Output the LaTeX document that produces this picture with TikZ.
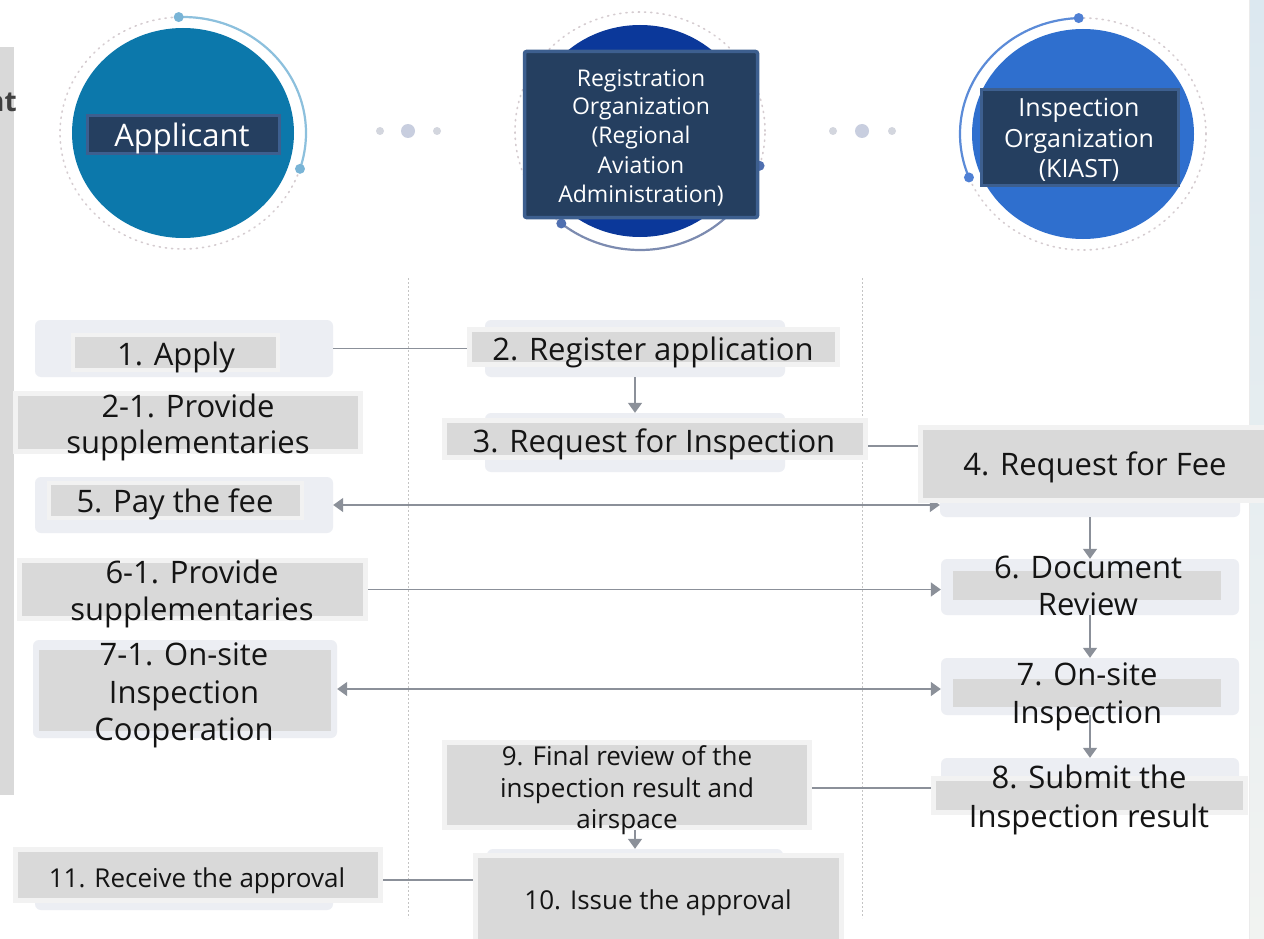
\documentclass[tikz,border=0pt]{standalone}
\usepackage{fontspec}
\setmainfont{Open Sans}
\usetikzlibrary{arrows.meta,fit}
\definecolor{cOne}{HTML}{0C78AB}
\definecolor{cTwo}{HTML}{0B389A}
\definecolor{cThree}{HTML}{2F6FCE}
\definecolor{arcOne}{HTML}{8CC0DD}
\definecolor{dotOne}{HTML}{79B4D6}
\definecolor{arcTwo}{HTML}{7C8BB0}
\definecolor{dotTwo}{HTML}{4F6FB0}
\definecolor{arcThree}{HTML}{5B8BD8}
\definecolor{dotThree}{HTML}{4F80D4}
\definecolor{ringc}{HTML}{D5CCD0}
\definecolor{hdrfill}{HTML}{253F60}
\definecolor{hdrdraw}{HTML}{3D5F8F}
\definecolor{bgc}{HTML}{ECEEF3}
\definecolor{grayc}{HTML}{D9D9D9}
\definecolor{lightb}{HTML}{F2F2F2}
\definecolor{linec}{HTML}{8B9099}
\definecolor{divc}{HTML}{C4C4C4}
\definecolor{edot}{HTML}{D3D6DE}
\definecolor{edotb}{HTML}{C8CEDF}
\definecolor{txtc}{HTML}{141414}
\definecolor{stripTop}{HTML}{DCE8F0}
\definecolor{stripMid}{HTML}{E2EFDA}
\definecolor{stripBot}{HTML}{F1F3F1}
\pgfdeclarelayer{bglayer}
\pgfdeclarelayer{midlayer}
\pgfsetlayers{bglayer,midlayer,main}
\newcommand\tline[4]{\node[tl,#1,anchor=base] (#2) at (#3) {#4};}
\begin{document}
\begin{tikzpicture}[x=1pt,y=-1pt,
  tl/.style={inner sep=0pt, outer sep=0pt, text=txtc},
  fbig/.style={font=\fontsize{31}{36}\selectfont},
  fmid/.style={font=\fontsize{26}{31}\selectfont},
  freg/.style={font=\fontsize{23}{28}\selectfont, text=white},
  fins/.style={font=\fontsize{25}{30}\selectfont, text=white},
  fapp/.style={font=\fontsize{31}{36}\selectfont, text=white},
  bgbox/.style={fill=bgc, rounded corners=6pt, inner sep=0pt, draw=none},
  graybox/.style={fill=grayc, draw=lightb, line width=5pt, inner sep=0pt},
  graythin/.style={fill=grayc, draw=lightb, line width=4pt, inner sep=0pt},
  grayplain/.style={fill=grayc, draw=none, inner sep=0pt},
  hdr/.style={fill=hdrfill, draw=hdrdraw, line width=3.5pt, inner sep=0pt},
  conn/.style={draw=linec, line width=1.5pt},
  arr/.style={conn, -{Triangle[length=10pt,width=14pt]}},
  darr/.style={conn, {Triangle[length=10pt,width=14pt]}-{Triangle[length=10pt,width=14pt]}},
  divider/.style={draw=divc, line width=1pt, dash pattern=on 2pt off 2pt},
  ring/.style={draw=ringc, line width=1.6pt, dash pattern=on 1.2pt off 5pt, line cap=round},
]
\useasboundingbox (0,0) rectangle (1264,939);

\begin{pgfonlayer}{bglayer}
\fill[white] (0,0) rectangle (1264,939);
% right strip
\shade[top color=stripTop, middle color=stripMid, bottom color=stripBot] (1250,0) rectangle (1264,939);
\draw[draw=black!8, line width=1pt] (1249,0) -- (1249,939);
% left panel
\fill[grayc] (0,47) rectangle (14,795);
\node[anchor=base east, inner sep=0pt, font=\fontsize{28}{30}\selectfont\bfseries, text=black!75] (cut) at (17,112) {nt};

% dividers
\coordinate (dA1) at (408,278); \coordinate (dA2) at (408,918);
\coordinate (dB1) at (862,278); \coordinate (dB2) at (862,918);
\draw[divider] (dA1) -- (dA2);
\draw[divider] (dB1) -- (dB2);

% circles
\coordinate (c1) at (183,133);
\coordinate (c2) at (640,131);
\coordinate (c3) at (1083,134);
\draw[ring] (c1) ellipse [x radius=123pt, y radius=116pt];
\draw[ring] (c2) ellipse [x radius=125pt, y radius=119pt];
\draw[ring] (c3) ellipse [x radius=123pt, y radius=116pt];
\fill[cOne] (c1) ellipse [x radius=111pt, y radius=105pt];
\fill[cTwo] (c2) ellipse [x radius=111pt, y radius=106pt];
\fill[cThree] (c3) ellipse [x radius=111pt, y radius=105pt];
\draw[arcOne, line width=2.2pt] ([shift={(92:123pt and 116pt)}]c1) arc[start angle=92, end angle=-18, x radius=123pt, y radius=116pt];
\fill[dotOne] ([shift={(92:123pt and 116pt)}]c1) circle[radius=5pt];
\fill[dotOne] ([shift={(-18:123pt and 116pt)}]c1) circle[radius=5pt];
\draw[arcTwo, line width=2.2pt] ([shift={(-129:125pt and 119pt)}]c2) arc[start angle=-129, end angle=-17, x radius=125pt, y radius=119pt];
\fill[dotTwo] ([shift={(-129:125pt and 119pt)}]c2) circle[radius=5pt];
\fill[dotTwo] ([shift={(-17:125pt and 119pt)}]c2) circle[radius=5pt];
\draw[arcThree, line width=2.2pt] ([shift={(92:123pt and 116pt)}]c3) arc[start angle=92, end angle=202, x radius=123pt, y radius=116pt];
\fill[dotThree] ([shift={(92:123pt and 116pt)}]c3) circle[radius=5pt];
\fill[dotThree] ([shift={(202:123pt and 116pt)}]c3) circle[radius=5pt];

% ellipsis dots
\fill[edot] (380,131) circle[radius=4pt];
\fill[edotb] (408,131) circle[radius=7pt];
\fill[edot] (437,131) circle[radius=4pt];
\fill[edot] (833,131) circle[radius=4pt];
\fill[edotb] (862,131) circle[radius=7pt];
\fill[edot] (892,131) circle[radius=4pt];

% background rounded shapes
\node[bgbox, fit={(35,320) (333,377)}] (s1) {};
\node[bgbox, fit={(35,477) (333,533)}] (s5) {};
\node[bgbox, fit={(33,640) (337,738)}] (s71) {};
\node[bgbox, fit={(35,855) (333,910)}] (s11) {};
\node[bgbox, fit={(485,320) (785,377)}] (s2) {};
\node[bgbox, fit={(485,413) (785,472)}] (s3) {};
\node[bgbox, fit={(487,849) (783,945)}] (s10) {};
\node[bgbox, fit={(940,430) (1240,517)}] (s4) {};
\node[bgbox, fit={(941,559) (1239,615)}] (s6) {};
\node[bgbox, fit={(941,658) (1239,715)}] (s7) {};
\node[bgbox, fit={(941,758) (1239,813)}] (s8) {};
\end{pgfonlayer}

% gray boxes
\node[graythin, fit={(73,335) (278,370)}] (g1) {};
\node[graybox, fit={(15.5,393.5) (360.5,451.5)}] (g21) {};
\node[graythin, fit={(49,483) (302,518)}] (g5) {};
\node[graybox, fit={(19.5,560.5) (365.5,618.5)}] (g61) {};
\node[grayplain, fit={(39,650) (331,731)}] (g71) {};
\node[graybox, fit={(15.5,849.5) (380.5,900.5)}] (g11) {};
\node[graybox, fit={(469.5,329.5) (837.5,364.5)}] (g2) {};
\node[graybox, fit={(444.5,420.5) (865.5,457.5)}] (g3) {};
\node[graybox, fit={(444.5,742.5) (809.5,827.5)}] (g9) {};
\node[graybox, fit={(475.5,855.5) (841.5,950)}] (g10) {};
\node[graybox, fit={(920.5,427.5) (1275,500.5)}] (g4) {};
\node[grayplain, fit={(953,571) (1221,600)}] (g6) {};
\node[grayplain, fit={(953,679) (1221,707)}] (g7) {};
\node[graybox, fit={(933.5,778.5) (1245.5,812.5)}] (g8) {};

% header boxes
\node[hdr, fit={(87.5,115.5) (279.5,153.5)}] (hApp) {};
\node[hdr, rounded corners=2pt, fit={(524.5,51.5) (757.5,217.5)}] (hReg) {};
\node[hdr, fit={(981.5,89.5) (1178.5,185.5)}] (hIns) {};

% connectors
\begin{pgfonlayer}{midlayer}
\draw[conn] (s1.east) -- (s1.east -| g2.west);
\draw[arr] (s2.south) -- (s3.north);
\draw[conn] ([yshift=-7pt]g3.east) -- ([yshift=-7pt]g3.east -| g4.west);
\draw[darr] (s5.east) -- (s5.east -| s4.west);
\draw[arr] (s4.south -| 1090,0) -- (s6.north -| 1090,0);
\draw[arr] (g61.east) -- (g61.east -| s6.west);
\draw[arr] (s6.south -| 1090,0) -- (s7.north -| 1090,0);
\draw[darr] (s71.east) -- (s71.east -| s7.west);
\draw[arr] (s7.south -| 1090,0) -- (s8.north -| 1090,0);
\draw[conn] ([yshift=-3pt]g9.east) -- ([yshift=-3pt]g9.east -| g8.west);
\draw[arr] (s10.north |- g9.south) -- (s10.north);
\draw[conn] ([yshift=-5pt]g11.east) -- ([yshift=-5pt]g11.east -| g10.west);
\end{pgfonlayer}

% header texts
\tline{fapp}{tApp}{182,147}{Applicant}
\tline{freg}{tRegA}{641,87}{Registration}
\tline{freg}{tRegB}{641,115}{Organization}
\tline{freg}{tRegC}{641,144}{(Regional}
\tline{freg}{tRegD}{641,173}{Aviation}
\tline{freg}{tRegE}{641,202}{Administration)}
\tline{fins}{tInsA}{1079,117}{Inspection}
\tline{fins}{tInsB}{1079,148}{Organization}
\tline{fins}{tInsC}{1079,178}{(KIAST)}

% step texts
\tline{fbig}{t1}{176,365}{1. Apply}
\tline{fbig}{t21a}{188,417}{2-1. Provide}
\tline{fbig}{t21b}{188,453}{supplementaries}
\tline{fbig}{t5}{175,512}{5. Pay the fee}
\tline{fbig}{t61a}{192,583}{6-1. Provide}
\tline{fbig}{t61b}{192,620}{supplementaries}
\tline{fbig}{t71a}{184,665}{7-1. On-site}
\tline{fbig}{t71b}{184,703}{Inspection}
\tline{fbig}{t71c}{184,740}{Cooperation}
\tline{fmid}{t11}{197,887}{11. Receive the approval}
\tline{fbig}{t2}{653,360}{2. Register application}
\tline{fbig}{t3}{654,452}{3. Request for Inspection}
\tline{fmid}{t9a}{627,765}{9. Final review of the}
\tline{fmid}{t9b}{627,797}{inspection result and}
\tline{fmid}{t9c}{627,828}{airspace}
\tline{fmid}{t10}{658,909}{10. Issue the approval}
\tline{fbig}{t4}{1095,475}{4. Request for Fee}
\tline{fbig}{t6a}{1088,578}{6. Document}
\tline{fbig}{t6b}{1088,615}{Review}
\tline{fbig}{t7a}{1087,685}{7. On-site}
\tline{fbig}{t7b}{1087,723}{Inspection}
\tline{fbig}{t8a}{1089,788}{8. Submit the}
\tline{fbig}{t8b}{1089,827}{Inspection result}
\end{tikzpicture}
\end{document}
